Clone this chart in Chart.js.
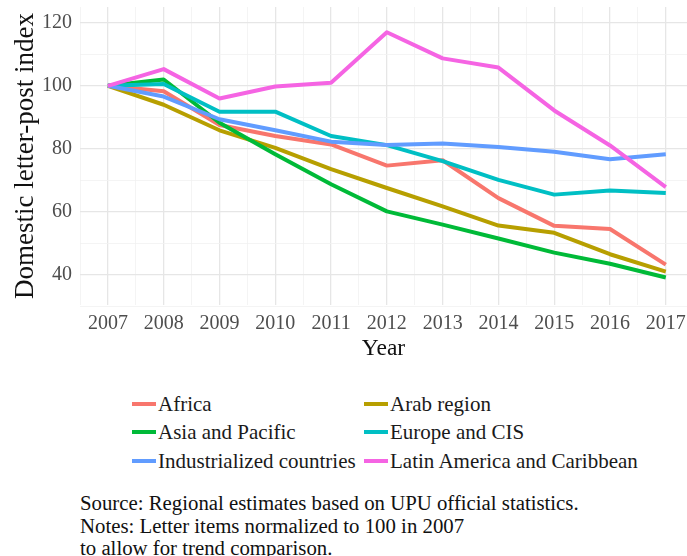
<!DOCTYPE html>
<html>
<head>
<meta charset="utf-8">
<script src="https://cdn.jsdelivr.net/npm/chart.js@4/dist/chart.umd.min.js"></script>
<style>
  body { margin: 0; background: #fff; font-family: 'Liberation Serif', 'DejaVu Serif', serif; overflow: hidden; }
  #wrap { position: relative; width: 687px; height: 365px; }
  #legend { position: absolute; left: 0; top: 0; width: 687px; }
  .item { position: absolute; font-size: 21px; color: #1a1a1a; white-space: nowrap; line-height: 24px; }
  .item span.sw { position: absolute; top: 10px; width: 24px; height: 4px; }
  #notes { position: absolute; left: 80px; top: 492px; font-size: 20.8px; line-height: 22.7px; color: #111; }
</style>
</head>
<body>
<div id="wrap"><canvas id="letterPostChart"></canvas></div>
<div id="legend"></div>
<div id="notes">
  Source: Regional estimates based on UPU official statistics.<br>
  Notes: Letter items normalized to 100 in 2007<br>
  to allow for trend comparison.
</div>
<script>
// Letter-post index by region, normalized to 100 in 2007
const years = [2007, 2008, 2009, 2010, 2011, 2012, 2013, 2014, 2015, 2016, 2017];
const regions = ['Africa', 'Arab region', 'Asia and Pacific', 'Europe and CIS', 'Industrialized countries', 'Latin America and Caribbean'];
const colors = ['#F8766D', '#B79F00', '#00BA38', '#00BFC4', '#619CFF', '#F564E3'];

const africa = [100, 98.3, 87.6, 84.1, 81.4, 74.7, 76.4, 64.4, 55.6, 54.6, 43.3];
const arabRegion = [100, 94.0, 85.9, 80.3, 73.6, 67.6, 61.8, 55.7, 53.4, 46.6, 41.1];
const asiaPacific = [100, 102.0, 88.3, 78.3, 68.8, 60.2, 56.0, 51.6, 47.1, 43.6, 39.2];
const europeCis = [100, 100.6, 91.8, 91.8, 84.1, 81.2, 76.1, 70.2, 65.5, 66.8, 66.0];
const industrialized = [100, 96.6, 89.4, 85.9, 82.3, 81.2, 81.7, 80.6, 79.1, 76.7, 78.3];
const latinAmerica = [100, 105.3, 96.0, 99.8, 101.0, 117.0, 108.7, 105.8, 92.2, 81.1, 67.9];

const yTicks = [40, 60, 80, 100, 120];

const series = [africa, arabRegion, asiaPacific, europeCis, industrialized, latinAmerica];
const fontFamily = "'Liberation Serif', 'DejaVu Serif', serif";

// major lines on the labelled ticks, minor lines half way between
const xGrid = [];
years.forEach(yr => { xGrid.push(yr - 0.5, yr); });
const yGrid = [];
yTicks.forEach(v => { yGrid.push(v - 10, v); });

const ctx = document.getElementById('letterPostChart').getContext('2d');

const chart = new Chart(ctx, {
    type: 'line',
    data: {
        datasets: series.map((values, i) => ({
            label: regions[i],
            data: years.map((yr, j) => ({ x: yr, y: values[j] })),
            borderColor: colors[i],
            backgroundColor: colors[i],
            borderWidth: 4,
            pointRadius: 0,
            borderJoinStyle: 'round',
            tension: 0,
            order: series.length - i // later regions drawn on top
        }))
    },
    options: {
        responsive: true,
        maintainAspectRatio: false,
        animation: false,
        layout: { padding: { top: 7, left: 0, right: 0, bottom: 0 } },
        plugins: {
            legend: { display: false },
            tooltip: { enabled: false }
        },
        scales: {
            x: {
                type: 'linear',
                min: 2006.5,
                max: 2017.38,
                afterBuildTicks: scale => { scale.ticks = xGrid.map(v => ({ value: v })); },
                afterFit: scale => {
                    scale.height = 60;
                    scale.paddingLeft = 0;
                    scale.paddingRight = 0;
                },
                border: { display: false },
                grid: {
                    drawTicks: false,
                    color: c => years.includes(c.tick.value) ? '#e6e6e6' : '#f1f1f1',
                    lineWidth: c => years.includes(c.tick.value) ? 1.3 : 0.8
                },
                ticks: {
                    autoSkip: false,
                    maxRotation: 0,
                    padding: 7,
                    color: '#4d4d4d',
                    font: { family: fontFamily, size: 20 },
                    callback: v => years.includes(v) ? String(v) : ''
                },
                title: {
                    display: true,
                    text: 'Year',
                    color: '#111',
                    font: { family: fontFamily, size: 23.5 },
                    padding: { top: 0, bottom: 2 }
                }
            },
            y: {
                min: 30.5,
                max: 125,
                afterBuildTicks: scale => { scale.ticks = yGrid.map(v => ({ value: v })); },
                afterFit: scale => {
                    scale.width = 80;
                    scale.paddingTop = 0;
                    scale.paddingBottom = 0;
                },
                border: { display: false },
                grid: {
                    drawTicks: false,
                    color: c => yTicks.includes(c.tick.value) ? '#e6e6e6' : '#f1f1f1',
                    lineWidth: c => yTicks.includes(c.tick.value) ? 1.3 : 0.8
                },
                ticks: {
                    padding: 8,
                    color: '#4d4d4d',
                    font: { family: fontFamily, size: 20 },
                    callback: v => yTicks.includes(v) ? String(v) : ''
                },
                title: {
                    display: true,
                    text: 'Domestic letter-post index',
                    color: '#111',
                    font: { family: fontFamily, size: 27 },
                    padding: { top: 10, bottom: 0 }
                }
            }
        }
    }
});

// Two-column legend under the chart, built from the datasets
const legendEl = document.getElementById('legend');
const colX = [132, 364];
const rowY = [392, 420, 449];
chart.data.datasets.forEach((ds, i) => {
    const item = document.createElement('div');
    item.className = 'item';
    item.style.left = colX[i % 2] + 'px';
    item.style.top = rowY[Math.floor(i / 2)] + 'px';
    item.style.paddingLeft = '26px';
    item.innerHTML = '<span class="sw" style="left:0;background:' + ds.borderColor + '"></span>' + ds.label;
    legendEl.appendChild(item);
});
</script>
</body>
</html>
